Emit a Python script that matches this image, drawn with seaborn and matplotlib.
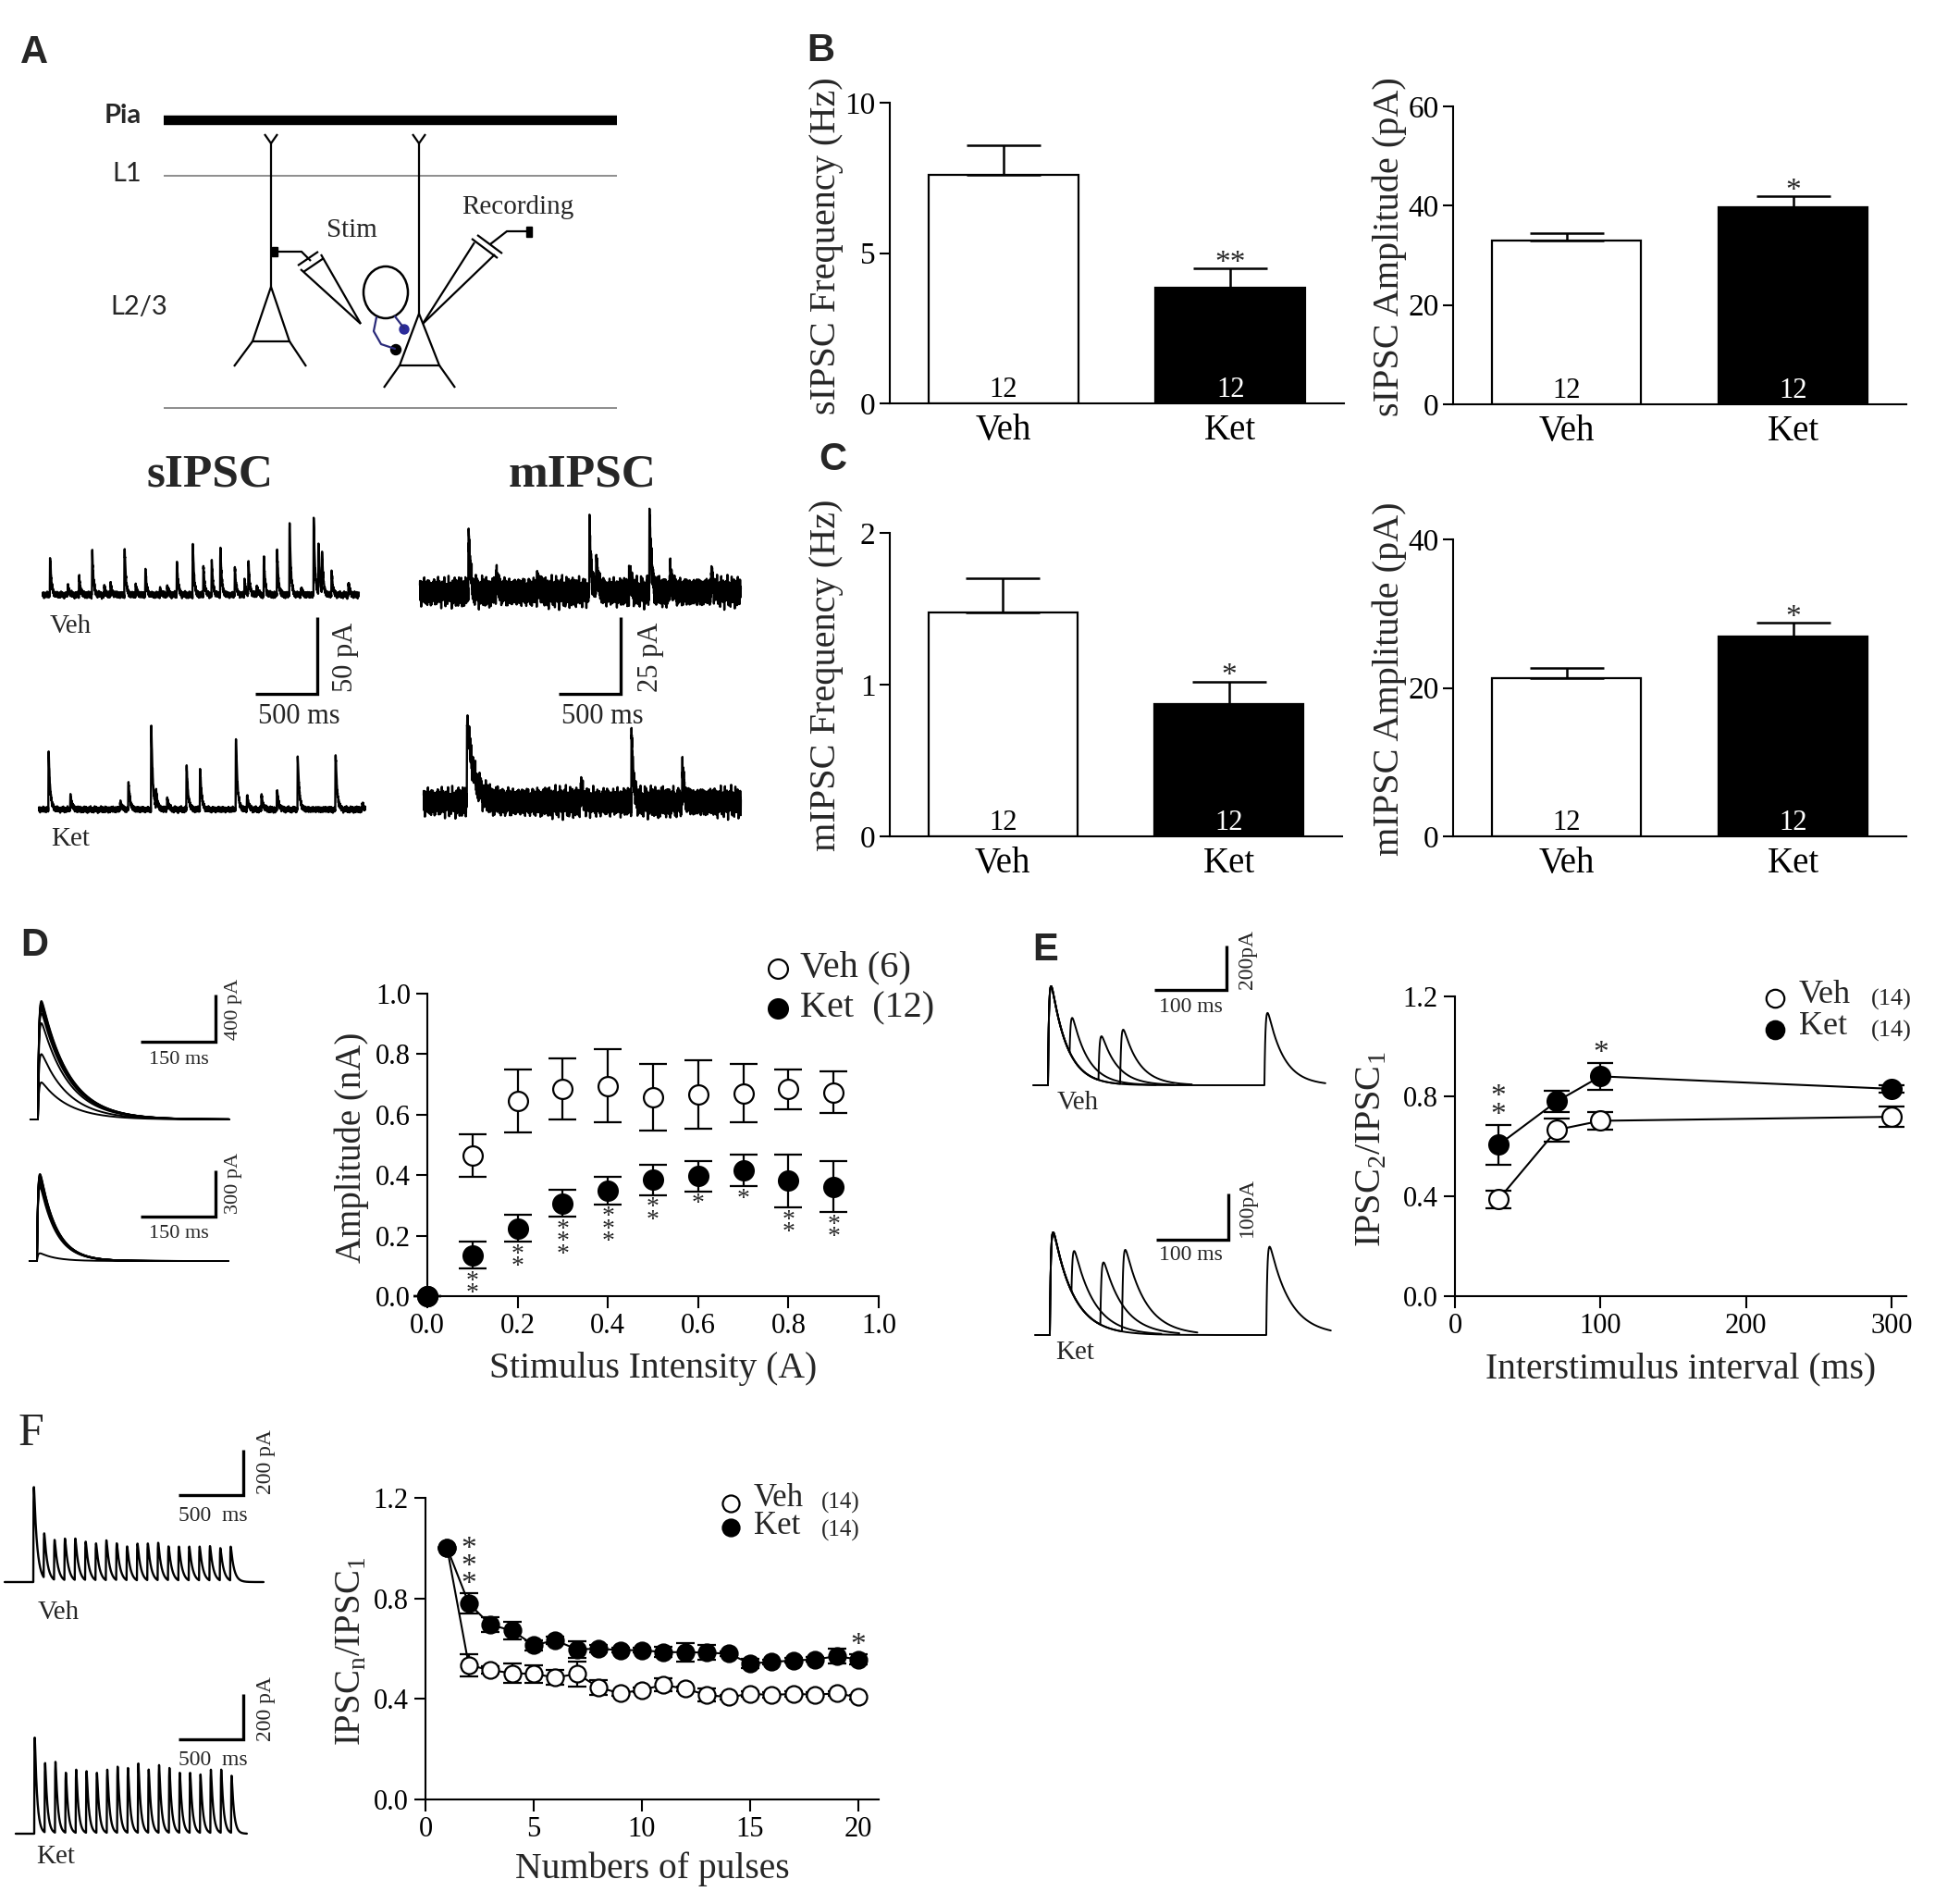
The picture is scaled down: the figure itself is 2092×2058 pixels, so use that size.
import numpy as np
import pandas as pd
import matplotlib
matplotlib.use('Agg')
import matplotlib.pyplot as plt
import seaborn as sns
from matplotlib.patches import Ellipse, Rectangle, Circle

# ---------------- data ----------------
groups = ['Veh', 'Ket']
n_cells = [12, 12]

sipsc_freq = [7.60, 3.86]
sipsc_freq_sem = [0.98, 0.62]
sipsc_amp = [32.97, 39.6]
sipsc_amp_sem = [1.5, 2.3]
mipsc_freq = [1.474, 0.873]
mipsc_freq_sem = [0.226, 0.148]
mipsc_amp = [21.3, 26.9]
mipsc_amp_sem = [1.4, 1.9]

# D: input-output
intensity = [0.0, 0.1, 0.2, 0.3, 0.4, 0.5, 0.6, 0.7, 0.8, 0.9]
veh_io = [0.0, 0.465, 0.645, 0.685, 0.695, 0.658, 0.666, 0.671, 0.684, 0.673]
veh_io_sem = [0.0, 0.07, 0.105, 0.10, 0.12, 0.11, 0.113, 0.097, 0.065, 0.069]
ket_io = [0.0, 0.135, 0.224, 0.307, 0.349, 0.384, 0.397, 0.415, 0.381, 0.361]
ket_io_sem = [0.0, 0.044, 0.045, 0.045, 0.045, 0.05, 0.05, 0.052, 0.088, 0.084]
io_stars = ['', '**', '**', '***', '***', '**', '*', '*', '**', '**']

# E: paired-pulse ratio
isi = [30, 70, 100, 300]
veh_ppr = [0.388, 0.666, 0.702, 0.718]
veh_ppr_sem = [0.035, 0.046, 0.035, 0.04]
ket_ppr = [0.606, 0.780, 0.880, 0.830]
ket_ppr_sem = [0.08, 0.042, 0.054, 0.015]
ppr_stars = ['**', '', '*', '']

# F: train depression
pulses = list(range(1, 21))
veh_train = [1.0, 0.534, 0.515, 0.502, 0.50, 0.485, 0.50, 0.446, 0.422, 0.436,
             0.456, 0.44, 0.416, 0.407, 0.42, 0.416, 0.42, 0.417, 0.422, 0.407]
veh_train_sem = [0, 0.045, 0.015, 0.04, 0.035, 0.03, 0.05, 0.03, 0.01, 0.01,
                 0.025, 0.01, 0.025, 0.01, 0.01, 0.01, 0.01, 0.01, 0.01, 0.01]
ket_train = [1.0, 0.78, 0.695, 0.672, 0.614, 0.633, 0.597, 0.60, 0.594, 0.594,
             0.586, 0.586, 0.584, 0.58, 0.541, 0.547, 0.553, 0.557, 0.57, 0.557]
ket_train_sem = [0, 0.04, 0.03, 0.035, 0.02, 0.015, 0.033, 0.015, 0.01, 0.01,
                 0.02, 0.036, 0.03, 0.01, 0.02, 0.01, 0.01, 0.01, 0.03, 0.02]
train_stars = {2: '***', 20: '*'}

# example traces: event times (ms) and amplitudes (pA)
sipsc_veh_t = [51, 195, 285, 391, 488, 539, 652, 742, 820, 937, 996, 1074, 1202, 1288, 1355,
               1425, 1542, 1620, 1651, 1718, 1776, 1882, 1983, 2077, 2178, 2217, 2245, 2322, 2459]
sipsc_veh_a = [24, 6, 12, 28, 5, 7, 30, 6, 16, 4, 6, 21, 33, 18, 22,
               30, 17, 9, 21, 6, 23, 30, 46, 4, 50, 32, 26, 15, 7]
sipsc_ket_t = [39, 215, 617, 683, 867, 906, 996, 1152, 1261, 1550, 1640, 1757, 1882, 2049, 2354, 2569]
sipsc_ket_a = [37, 9, 5, 18, 54, 10, 7, 29, 26, 46, 9, 9, 13, 34, 36, 4]
mipsc_veh_t = [390, 613, 944, 1366, 1420, 1686, 1850, 2018, 2349]
mipsc_veh_a = [19.6, 6, 4, 20.6, 11, 8, 26, 8, 6]
mipsc_ket_slow_t = [378]
mipsc_ket_slow_a = [25.6]
mipsc_ket_t = [1296, 1705, 2115]
mipsc_ket_a = [5, 22, 11]

evoked_veh_a = [314, 554, 816, 900, 930, 950, 970, 990, 1004]
evoked_ket_a = [50, 480, 500, 520, 530, 540, 550, 560, 564]

pp_isi = [30, 70, 100, 300]
pp_veh_first = 446
pp_veh_second = [0.40, 0.45, 0.55, 0.73]
pp_ket_first = 222
pp_ket_second = [0.45, 0.62, 0.80, 0.86]

train_veh_a = [420, 197, 177, 184, 184, 170, 163, 177, 163, 150,
               163, 163, 166, 150, 150, 150, 150, 152, 143, 150]
train_ket_a = [424, 306, 313, 265, 279, 272, 265, 279, 292, 286,
               306, 279, 299, 286, 265, 265, 258, 279, 279, 252]

# ---------------- style ----------------
sns.set_style('ticks')
plt.rcParams['font.family'] = ['Liberation Serif', 'DejaVu Serif']
plt.rcParams['mathtext.fontset'] = 'custom'
plt.rcParams['mathtext.rm'] = 'Liberation Serif'
plt.rcParams['axes.linewidth'] = 1.5
plt.rcParams['axes.edgecolor'] = 'black'
plt.rcParams['xtick.color'] = 'black'
plt.rcParams['ytick.color'] = 'black'

W, H = 2092, 2058
fig = plt.figure(figsize=(W / 100, H / 100), dpi=100)


def box(l, t, r, b):
    return [l / W, 1 - b / H, (r - l) / W, (b - t) / H]


canvas = fig.add_axes([0, 0, 1, 1])
canvas.set_xlim(0, W)
canvas.set_ylim(H, 0)
canvas.axis('off')


def seg(pts, color='black', lw=1.6):
    canvas.plot([p[0] for p in pts], [p[1] for p in pts], color=color, lw=lw,
                solid_capstyle='butt', solid_joinstyle='miter')


def ctext(x, y, s, size, **kw):
    kw.setdefault('ha', 'center')
    kw.setdefault('va', 'center')
    canvas.text(x, y, s, fontsize=size, **kw)


# panel letters
for letter, (x, y) in zip('ABCDE', [(37, 57), (887, 55), (900, 497), (37, 1022), (1130, 1027)]):
    ctext(x, y, letter, 30, family='Liberation Sans', weight='bold')
ctext(33, 1550, 'F', 36)

# ---------------- A: schematic ----------------
ctext(133, 125, 'Pia', 21, family='Lato', weight='bold')
seg([(177, 130), (667, 130)], lw=7.5)
ctext(137, 188, 'L1', 21, family='Lato')
seg([(177, 190), (667, 190)], color='#7a7a7a', lw=1.2)
ctext(150, 332, 'L2/3', 21, family='Lato')
seg([(177, 441), (667, 441)], color='#7a7a7a', lw=1.2)

# left pyramidal cell
seg([(286, 145), (293, 155), (300, 145)])
seg([(293, 155), (293, 310)])
seg([(293, 310), (273, 369), (313, 369), (293, 310)])
seg([(273, 369), (253, 396)])
seg([(313, 369), (331, 396)])
# right pyramidal cell
seg([(446, 145), (453, 155), (460, 145)])
seg([(453, 155), (453, 339)])
seg([(453, 339), (432, 395), (475, 395), (453, 339)])
seg([(432, 395), (415, 419)])
seg([(475, 395), (492, 419)])
# interneuron
canvas.add_patch(Ellipse((417, 316), 48, 56, fill=False, lw=1.8, ec='black'))
canvas.plot([407, 404, 412, 427], [343, 358, 372, 377], color='#2b2b7a', lw=1.6)
canvas.plot([427, 437], [342, 355], color='#2b2b7a', lw=1.6)
canvas.add_patch(Circle((437, 356), 5, color='#2b2b9a'))
canvas.add_patch(Circle((428, 378), 5.5, color='black'))
# stimulating pipette
canvas.add_patch(Rectangle((294, 267), 6, 10, color='black'))
seg([(300, 272), (326, 272), (336, 282)])
seg([(325, 291), (390, 350)])
seg([(347, 275), (390, 350)])
seg([(322, 287), (344, 272)])
seg([(328, 294), (350, 279)])
ctext(380, 249, 'Stim', 21)
# recording pipette
seg([(457, 350), (513, 262)])
seg([(457, 350), (535, 275)])
seg([(510, 258), (538, 279)])
seg([(516, 254), (543, 274)])
seg([(530, 264), (548, 250), (570, 250)])
canvas.add_patch(Rectangle((569, 245), 6, 11, color='black'))
ctext(560, 224, 'Recording', 21)

ctext(227, 513, 'sIPSC', 37, weight='bold')
ctext(630, 513, 'mIPSC', 37, weight='bold')


# ---------------- trace helpers ----------------
def psc(t, onsets, amps, tau_d, tau_r=1.0):
    tp = tau_d * tau_r / (tau_d - tau_r) * np.log(tau_d / tau_r)
    norm = np.exp(-tp / tau_d) - np.exp(-tp / tau_r)
    y = np.zeros_like(t, dtype=float)
    for t0, a in zip(onsets, amps):
        s = t - t0
        m = s > 0
        y[m] += a * (np.exp(-s[m] / tau_d) - np.exp(-s[m] / tau_r)) / norm
    return y


def hum(t, amp):
    # deterministic recording-noise look
    i = np.arange(len(t))
    return amp * (0.45 * np.sin(i * 2.399) + 0.3 * np.sin(i * 1.117 + 0.7)
                  + 0.2 * np.sin(i * 0.377 + 1.9) + 0.25 * np.sin(i * 2.913 + 0.3))


def trace_axes(l, t, r, b, x0, y0, sx, sy):
    ax = fig.add_axes(box(l, t, r, b), facecolor='none')
    ax.set_xlim((l - x0) / sx, (r - x0) / sx)
    ax.set_ylim((y0 - b) / sy, (y0 - t) / sy)
    ax.axis('off')
    return ax


def scalebar(ax, px, py, x0, y0, sx, sy, dx, dy):
    xe = (px - x0) / sx
    yb = (y0 - py) / sy
    ax.plot([xe - dx, xe, xe], [yb, yb, yb + dy], color='black', lw=2.4,
            clip_on=False, solid_joinstyle='miter', solid_capstyle='butt')


TR_LW = 1.7

# sIPSC
t = np.arange(-5, 2545, 1.0)
ax = trace_axes(40, 540, 400, 790, 47, 643, 0.134, 1.66)
ax.plot(t, psc(t, sipsc_veh_t, sipsc_veh_a, 10) + hum(t, 2.2), color='black', lw=TR_LW)
scalebar(ax, 343, 750, 47, 643, 0.134, 1.66, 500, 50)
t = np.arange(-37, 2597, 1.0)
ax = trace_axes(36, 770, 400, 900, 47, 875, 0.134, 1.66)
ax.plot(t, psc(t, sipsc_ket_t, sipsc_ket_a, 12) + hum(t, 2.0), color='black', lw=TR_LW)
ctext(76, 677, 'Veh', 21)
ctext(76, 907, 'Ket', 21)
ctext(374, 710, '50 pA', 22, rotation=90)
ctext(323, 775, '500 ms', 22)

# mIPSC
t = np.arange(0, 2590, 1.0)
ax = trace_axes(450, 530, 805, 790, 454, 640, 0.134, 3.32)
ax.plot(t, psc(t, mipsc_veh_t, mipsc_veh_a, 14) + hum(t, 5.0), color='black', lw=TR_LW)
scalebar(ax, 671, 750, 454, 640, 0.134, 3.32, 500, 25)
t = np.arange(30, 2590, 1.0)
ax = trace_axes(450, 760, 805, 900, 454, 867, 0.134, 3.32)
ket_m = psc(t, mipsc_ket_slow_t, mipsc_ket_slow_a, 55) + psc(t, mipsc_ket_t, mipsc_ket_a, 14)
ax.plot(t, ket_m + hum(t, 5.0), color='black', lw=TR_LW)
ctext(703, 710, '25 pA', 22, rotation=90)
ctext(651, 775, '500 ms', 22)

# D evoked families
t = np.arange(-15, 383, 0.5)
ax = trace_axes(28, 1060, 255, 1225, 41, 1210, 0.54, 0.1275)
for a in evoked_veh_a:
    ax.plot(t, psc(t, [0], [a], 55, 2.0), color='black', lw=1.4)
scalebar(ax, 233, 1126, 41, 1210, 0.54, 0.1275, 150, 400)
ax = trace_axes(28, 1240, 255, 1375, 40, 1363, 0.54, 0.1667)
for a in evoked_ket_a:
    ax.plot(t, psc(t, [0], [a], 32, 2.0), color='black', lw=1.4)
scalebar(ax, 233, 1315, 40, 1363, 0.54, 0.1667, 150, 300)
ctext(252, 1091, '400 pA', 16, rotation=90)
ctext(193, 1145, '150 ms', 16)
ctext(252, 1279, '300 pA', 16, rotation=90)
ctext(193, 1333, '150 ms', 16)

# E paired pulses
sweep_end = [150, 175, 200, 385]
ax = trace_axes(1112, 1010, 1440, 1185, 1133, 1173, 0.78, 0.24)
for d, r, e in zip(pp_isi, pp_veh_second, sweep_end):
    t = np.arange(-20, e, 0.5)
    ax.plot(t, psc(t, [0, d], [pp_veh_first, r * pp_veh_first], 22, 1.5), color='black', lw=1.4)
scalebar(ax, 1326, 1070, 1133, 1173, 0.78, 0.24, 100, 200)
ax = trace_axes(1112, 1280, 1445, 1455, 1135, 1443, 0.78, 0.5)
for d, r, e in zip(pp_isi, pp_ket_second, sweep_end):
    t = np.arange(-20, e + 5, 0.5)
    ax.plot(t, psc(t, [0, d], [pp_ket_first, r * pp_ket_first], 28, 1.5), color='black', lw=1.4)
scalebar(ax, 1328, 1340, 1135, 1443, 0.78, 0.5, 100, 100)
ctext(1348, 1037, '200pA', 17, rotation=90)
ctext(1287, 1088, '100 ms', 17)
ctext(1165, 1192, 'Veh', 21)
ctext(1348, 1305, '100pA', 17, rotation=90)
ctext(1287, 1357, '100 ms', 17)
ctext(1162, 1462, 'Ket', 21)

# F trains (80 ms interval)
onsets = [80.0 * k for k in range(20)]
t = np.arange(-221, 1779, 1.0)
ax = trace_axes(0, 1555, 290, 1720, 36, 1710, 0.14, 0.245)
ax.plot(t, psc(t, onsets, train_veh_a, 25, 1.5), color='black', lw=TR_LW)
scalebar(ax, 263, 1616, 36, 1710, 0.14, 0.245, 500, 200)
t = np.arange(-143, 1643, 1.0)
ax = trace_axes(10, 1825, 290, 1990, 37, 1982, 0.14, 0.245)
ax.plot(t, psc(t, onsets, train_ket_a, 18, 1.5), color='black', lw=TR_LW)
scalebar(ax, 263, 1880, 37, 1982, 0.14, 0.245, 500, 200)
ctext(287, 1580, '200 pA', 17, rotation=90)
ctext(230, 1638, '500  ms', 17)
ctext(63, 1743, 'Veh', 21)
ctext(287, 1847, '200 pA', 17, rotation=90)
ctext(230, 1902, '500  ms', 17)
ctext(60, 2007, 'Ket', 21)


# ---------------- B / C bar panels ----------------
def bar_panel(rect, vals, sems, ymax, yticks, ylabel, star, label_px, left_px, width_px, label_y):
    ax = fig.add_axes(rect, facecolor='none')
    df = pd.DataFrame({'group': groups, 'value': vals})
    sns.barplot(data=df, x='group', y='value', hue='group',
                palette={'Veh': 'white', 'Ket': 'black'}, edgecolor='black',
                linewidth=1.6, width=0.66, errorbar=None, legend=False, ax=ax)
    ax.errorbar([0, 1], vals, yerr=[[0, 0], sems], fmt='none', ecolor='black',
                elinewidth=1.8, capsize=29, capthick=1.8)
    for i, (n, c) in enumerate(zip(n_cells, ['black', 'white'])):
        ax.text(i, 0, str(n), ha='center', va='bottom', color=c, fontsize=22)
    ax.annotate(star, (1, vals[1] + sems[1]), xytext=(0, -7), textcoords='offset points',
                ha='center', va='bottom', fontsize=24)
    ax.set_xlim(-0.5, 1.5)
    ax.set_ylim(0, ymax)
    ax.set_yticks(yticks)
    ax.set_xlabel('')
    ax.set_ylabel(ylabel, fontsize=29)
    ax.yaxis.set_label_coords((label_px - left_px) / width_px, label_y)
    ax.yaxis.label.set_verticalalignment('center')
    ax.tick_params(axis='x', length=0, labelsize=28, pad=8)
    ax.tick_params(axis='y', length=8, width=1.5, labelsize=24, pad=3)
    sns.despine(ax=ax)
    return ax


bar_panel(box(962, 111, 1453, 436), sipsc_freq, sipsc_freq_sem, 10, [0, 5, 10],
          'sIPSC Frequency (Hz)', '**', 893, 962, 491, 0.525)
bar_panel(box(1571, 115, 2061, 437), sipsc_amp, sipsc_amp_sem, 60, [0, 20, 40, 60],
          'sIPSC Amplitude (pA)', '*', 1502, 1571, 490, 0.53)
bar_panel(box(962, 576, 1451, 904), mipsc_freq, mipsc_freq_sem, 2, [0, 1, 2],
          'mIPSC Frequency (Hz)', '*', 893, 962, 489, 0.53)
bar_panel(box(1571, 583, 2061, 904), mipsc_amp, mipsc_amp_sem, 40, [0, 20, 40],
          'mIPSC Amplitude (pA)', '*', 1502, 1571, 490, 0.53)


# ---------------- D / E / F point panels ----------------
def points(ax, x, y, e, filled, ms, cap):
    cont = ax.errorbar(x, y, yerr=e, fmt='o', ms=ms, mfc='black' if filled else 'white',
                       mec='black', mew=1.6, ecolor='black', elinewidth=1.6,
                       capsize=cap, capthick=1.6, zorder=4 if filled else 3)
    for art in cont.get_children():
        art.set_clip_on(False)


def style_axes(ax, xlabel, ylabel, ylab_frac, xlab_frac, ylab_size=27):
    ax.set_xlabel(xlabel, fontsize=28.5)
    ax.set_ylabel(ylabel, fontsize=ylab_size)
    ax.yaxis.set_label_coords(ylab_frac, 0.49)
    ax.yaxis.label.set_verticalalignment('center')
    ax.xaxis.set_label_coords(0.5, xlab_frac)
    ax.xaxis.label.set_verticalalignment('center')
    ax.tick_params(length=9, width=1.5, labelsize=22, pad=4)
    sns.despine(ax=ax)


# D
ax = fig.add_axes(box(462, 1074, 950, 1401), facecolor='none')
points(ax, intensity, veh_io, veh_io_sem, False, 15, 11)
points(ax, intensity, ket_io, ket_io_sem, True, 15, 11)
for x, y, e, s in zip(intensity, ket_io, ket_io_sem, io_stars):
    if s:
        ax.annotate('\n'.join(s), (x, y - e), xytext=(0, -1), textcoords='offset points',
                    ha='center', va='top', fontsize=20, linespacing=0.4)
ax.set_xlim(0, 1.0)
ax.set_ylim(0, 1.0)
ax.set_xticks(np.arange(0, 1.01, 0.2))
ax.set_yticks(np.arange(0, 1.01, 0.2))
ax.xaxis.set_major_formatter('{x:.1f}')
ax.yaxis.set_major_formatter('{x:.1f}')
style_axes(ax, 'Stimulus Intensity (A)', 'Amplitude (nA)', (380 - 462) / 488, (1401 - 1480) / 327, 28)

canvas.plot([841], [1047], 'o', ms=15, mfc='white', mec='black', mew=1.6)
canvas.plot([841], [1090], 'o', ms=15, mfc='black', mec='black', mew=1.6)
ctext(865, 1046, 'Veh (6)', 29, ha='left')
ctext(865, 1090, 'Ket  (12)', 29, ha='left')

# E
ax = fig.add_axes(box(1573, 1077, 2061, 1401), facecolor='none')
sns.lineplot(x=isi, y=veh_ppr, color='black', lw=1.5, ax=ax, zorder=2)
sns.lineplot(x=isi, y=ket_ppr, color='black', lw=1.5, ax=ax, zorder=2)
points(ax, isi, veh_ppr, veh_ppr_sem, False, 15, 10)
points(ax, isi, ket_ppr, ket_ppr_sem, True, 15, 10)
for x, y, e, s in zip(isi, ket_ppr, ket_ppr_sem, ppr_stars):
    if s:
        ax.annotate('\n'.join(s), (x, y + e), xytext=(0, -4), textcoords='offset points',
                    ha='center', va='bottom', fontsize=24, linespacing=0.55)
ax.set_xlim(0, 310)
ax.set_ylim(0, 1.2)
ax.set_xticks([0, 100, 200, 300])
ax.set_yticks([0, 0.4, 0.8, 1.2])
ax.yaxis.set_major_formatter('{x:.1f}')
style_axes(ax, 'Interstimulus interval (ms)', r'IPSC$_\mathregular{2}$/IPSC$_\mathregular{1}$',
           (1483 - 1573) / 488, (1401 - 1480) / 324, 29)

canvas.plot([1919], [1079], 'o', ms=14, mfc='white', mec='black', mew=1.6)
canvas.plot([1919], [1113], 'o', ms=14, mfc='black', mec='black', mew=1.6)
ctext(1945, 1076, 'Veh', 26, ha='left')
ctext(1945, 1110, 'Ket', 26, ha='left')
ctext(2023, 1080, '(14)', 19, ha='left')
ctext(2023, 1114, '(14)', 19, ha='left')

# F
ax = fig.add_axes(box(460, 1619, 950, 1945), facecolor='none')
sns.lineplot(x=pulses, y=veh_train, color='black', lw=1.5, ax=ax, zorder=2)
sns.lineplot(x=pulses, y=ket_train, color='black', lw=1.5, ax=ax, zorder=2)
points(ax, pulses, veh_train, veh_train_sem, False, 13, 7)
points(ax, pulses, ket_train, ket_train_sem, True, 13, 7)
for x, s in train_stars.items():
    i = pulses.index(x)
    ax.annotate('\n'.join(s), (x, ket_train[i] + ket_train_sem[i]), xytext=(0, -4),
                textcoords='offset points', ha='center', va='bottom', fontsize=24, linespacing=0.5)
ax.set_xlim(0, 20.94)
ax.set_ylim(0, 1.2)
ax.set_xticks([0, 5, 10, 15, 20])
ax.set_yticks([0, 0.4, 0.8, 1.2])
ax.yaxis.set_major_formatter('{x:.1f}')
style_axes(ax, 'Numbers of pulses', r'IPSC$_\mathregular{n}$/IPSC$_\mathregular{1}$',
           (380 - 460) / 490, (1945 - 2020) / 326, 28)

canvas.plot([790], [1625], 'o', ms=13, mfc='white', mec='black', mew=1.6)
canvas.plot([790], [1651], 'o', ms=13, mfc='black', mec='black', mew=1.6)
ctext(815, 1620, 'Veh', 25, ha='left')
ctext(815, 1650, 'Ket', 25, ha='left')
ctext(888, 1624, '(14)', 18, ha='left')
ctext(888, 1654, '(14)', 18, ha='left')

fig.savefig('out.png', dpi=100)
